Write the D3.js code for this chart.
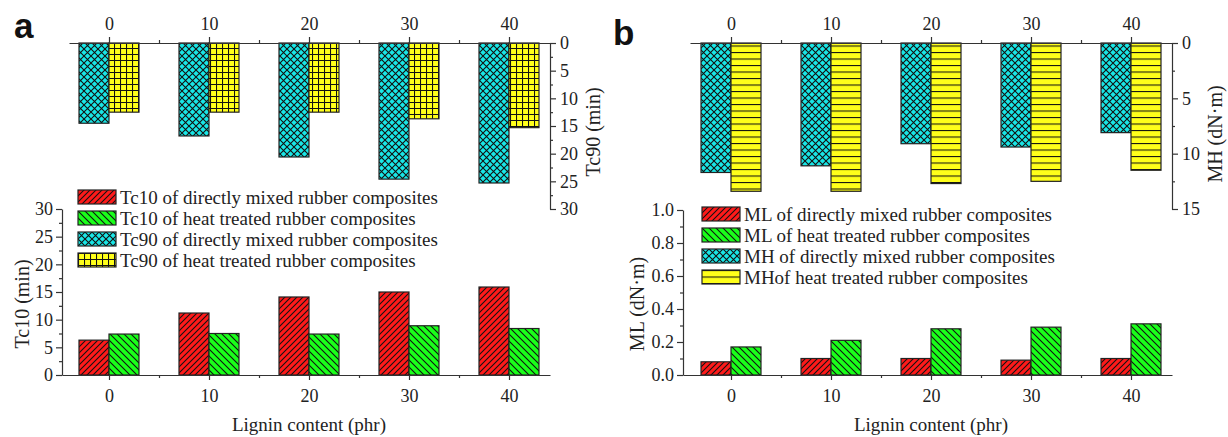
<!DOCTYPE html>
<html lang="en">
<head>
<meta charset="utf-8">
<title>Lignin content - cure characteristics</title>
<script src="https://d3js.org/d3.v7.min.js"></script>
<style>
  body { margin: 0; background: #fff; }
  .tick text { font-family: 'Liberation Serif', 'Times New Roman', serif; font-size: 18px; fill: #222; }
  .axis path, .axis line { stroke: #333; stroke-width: 1.2px; }
  .title { font-family: 'Liberation Serif', 'Times New Roman', serif; font-size: 19px; fill: #222; }
  .title.rot { font-size: 20px; }
  .legend text { font-family: 'Liberation Serif', 'Times New Roman', serif; font-size: 19px; fill: #222; }
  .panel-label { font-family: 'Liberation Sans', Arial, sans-serif; font-weight: bold; font-size: 35px; fill: #111; }
  .bar { stroke: #222; stroke-width: 1.2px; }
</style>
</head>
<body>
<svg id="chart" width="1228" height="437"></svg>

<script>
// lignin loading (phr)
var lignin = [0, 10, 20, 30, 40];
var minorX = [5, 15, 25, 35];

// panel a: scorch / cure time (min)
var tc90Direct = [14.5, 16.8, 20.6, 24.6, 25.3];
var tc90Heat   = [12.5, 12.5, 12.5, 13.7, 15.3];
var tc10Direct = [6.3, 11.2, 14.1, 15.0, 15.9];
var tc10Heat   = [7.4, 7.5, 7.4, 8.9, 8.4];

// panel b: torque (dN.m)
var mhDirect = [11.7, 11.1, 9.1, 9.4, 8.1];
var mhHeat   = [13.4, 13.4, 12.7, 12.5, 11.5];
var mlDirect = [0.08, 0.10, 0.10, 0.09, 0.10];
var mlHeat   = [0.17, 0.21, 0.28, 0.29, 0.31];

var legendA = ["Tc10 of directly mixed rubber composites",
               "Tc10 of heat treated rubber composites",
               "Tc90 of directly mixed rubber composites",
               "Tc90 of heat treated rubber composites"];
var legendB = ["ML of directly mixed rubber composites",
               "ML of heat treated rubber composites",
               "MH of directly mixed rubber composites",
               "MHof heat treated rubber composites"];

var tc90Ticks = [0, 5, 10, 15, 20, 25, 30];
var tc10Ticks = [0, 5, 10, 15, 20, 25, 30];
var mhTicks = [0, 5, 10, 15];
var mlTicks = [0.0, 0.2, 0.4, 0.6, 0.8, 1.0];

var svg = d3.select("#chart");
var defs = svg.append("defs");

// hatch patterns
function hatch(id, fill, w, h, path) {
  var p = defs.append("pattern")
      .attr("id", id)
      .attr("patternUnits", "userSpaceOnUse")
      .attr("width", w).attr("height", h);
  p.append("rect").attr("width", w).attr("height", h).attr("fill", fill);
  p.append("path").attr("d", path).attr("stroke", "#111").attr("stroke-width", 1.1).attr("fill", "none");
}
hatch("redHatch", "#ff1a1a", 6, 6, "M-1,1 L1,-1 M0,6 L6,0 M5,7 L7,5");
hatch("greenHatch", "#1aff1a", 7, 7, "M-1,6 L1,8 M0,0 L7,7 M6,-1 L8,1");
hatch("cyanHatch", "#19e6e6", 7, 7, "M0,0 L7,7 M7,0 L0,7");
hatch("yellowGrid", "#ffff1a", 6, 6, "M0,0.5 H6 M0.5,0 V6");
hatch("yellowStripe", "#ffff1a", 6, 6.5, "M0,0.5 H6");

var fills = ["url(#redHatch)", "url(#greenHatch)", "url(#cyanHatch)"];

function drawPanel(o) {
  var g = svg.append("g");

  // x scales: top axis and bottom axis have the same slope, different start
  var xTop = d3.scaleLinear().domain(o.topDomain).range([o.topX0, o.x1]);
  var xBot = d3.scaleLinear().domain(o.botDomain).range([o.botX0, o.x1]);
  var yTop = d3.scaleLinear().domain(o.topY).range([43, 209]);
  var yBot = d3.scaleLinear().domain(o.botY).range([375, o.botYTop]);

  // upper hanging bars
  [[o.topDirect, -3, fills[2]], [o.topHeat, 0, o.topHeatFill]].forEach(function(s) {
    g.selectAll(null).data(s[0]).enter().append("rect")
      .attr("class", "bar")
      .attr("x", function(d, i) { return xTop(lignin[i] + s[1]); })
      .attr("y", yTop(0))
      .attr("width", function(d, i) { return xTop(lignin[i] + s[1] + 3) - xTop(lignin[i] + s[1]); })
      .attr("height", function(d) { return yTop(d) - yTop(0); })
      .attr("fill", s[2]);
  });

  // lower bars
  [[o.botDirect, -3, fills[0]], [o.botHeat, 0, fills[1]]].forEach(function(s) {
    g.selectAll(null).data(s[0]).enter().append("rect")
      .attr("class", "bar")
      .attr("x", function(d, i) { return xBot(lignin[i] + s[1]); })
      .attr("y", function(d) { return yBot(d); })
      .attr("width", function(d, i) { return xBot(lignin[i] + s[1] + 3) - xBot(lignin[i] + s[1]); })
      .attr("height", function(d) { return yBot(0) - yBot(d); })
      .attr("fill", s[2]);
  });

  // top x axis
  g.append("g").attr("class", "axis").attr("transform", "translate(0,43)")
    .call(d3.axisTop(xTop).tickValues(lignin).tickSize(6).tickSizeOuter(0).tickPadding(7));
  g.append("g").attr("class", "axis").attr("transform", "translate(0,43)")
    .call(d3.axisTop(xTop).tickValues(minorX).tickSize(3).tickSizeOuter(0).tickFormat(""))
    .select(".domain").remove();

  // bottom x axis
  g.append("g").attr("class", "axis").attr("transform", "translate(0,375)")
    .call(d3.axisBottom(xBot).tickValues(lignin).tickSize(5).tickSizeOuter(0).tickPadding(9));
  g.append("g").attr("class", "axis").attr("transform", "translate(0,375)")
    .call(d3.axisBottom(xBot).tickValues(minorX).tickSize(3).tickSizeOuter(0).tickFormat(""))
    .select(".domain").remove();

  // right y axis (upper chart)
  g.append("g").attr("class", "axis").attr("transform", "translate(" + o.x1 + ",0)")
    .call(d3.axisRight(yTop).tickValues(o.topTicks).tickSize(6).tickSizeOuter(0).tickPadding(4));
  g.append("g").attr("class", "axis").attr("transform", "translate(" + o.x1 + ",0)")
    .call(d3.axisRight(yTop).tickValues(o.topMinor).tickSize(3).tickFormat(""))
    .select(".domain").remove();

  // left y axis (lower chart)
  g.append("g").attr("class", "axis").attr("transform", "translate(" + o.botX0 + ",0)")
    .call(d3.axisLeft(yBot).tickValues(o.botTicks).tickSize(6).tickSizeOuter(0).tickPadding(3)
      .tickFormat(o.botFormat));
  g.append("g").attr("class", "axis").attr("transform", "translate(" + o.botX0 + ",0)")
    .call(d3.axisLeft(yBot).tickValues(o.botMinor).tickSize(3).tickFormat(""))
    .select(".domain").remove();

  // titles
  g.append("text").attr("class", "title")
    .attr("x", xBot(20)).attr("y", 431).attr("text-anchor", "middle")
    .text("Lignin content (phr)");
  g.append("text").attr("class", "title rot")
    .attr("transform", "translate(" + o.botTitleX + ",304)rotate(-90)")
    .attr("text-anchor", "middle").text(o.botTitle);
  g.append("text").attr("class", "title rot")
    .attr("transform", "translate(" + o.topTitleX + "," + o.topTitleY + ")rotate(-90)")
    .attr("text-anchor", "middle").text(o.topTitle);

  g.append("text").attr("class", "panel-label")
    .attr("x", o.labelX).attr("y", o.labelY).text(o.label);

  // legend
  var lg = g.append("g").attr("class", "legend");
  var legendFills = [fills[0], fills[1], fills[2], o.topHeatFill];
  var rows = lg.selectAll("g").data(o.legend).enter().append("g")
    .attr("transform", function(d, i) { return "translate(" + o.legendX + "," + (o.legendY + i * 21) + ")"; });
  rows.append("rect").attr("class", "bar")
    .attr("width", 38).attr("height", 14)
    .attr("fill", function(d, i) { return legendFills[i]; });
  rows.append("text").attr("x", 42).attr("y", 14).text(function(d) { return d; });
}

drawPanel({
  label: "a", labelX: 14, labelY: 38,
  topDomain: [-4, 44.1], topX0: 69, botDomain: [-4.7, 44.1], botX0: 62, x1: 550,
  topY: [0, 30], topTicks: tc90Ticks, topMinor: [2.5, 7.5, 12.5, 17.5, 22.5, 27.5],
  botY: [0, 30], botYTop: 209, botTicks: tc10Ticks, botMinor: [2.5, 7.5, 12.5, 17.5, 22.5, 27.5],
  botFormat: d3.format("d"),
  topDirect: tc90Direct, topHeat: tc90Heat, topHeatFill: "url(#yellowGrid)",
  botDirect: tc10Direct, botHeat: tc10Heat,
  topTitle: "Tc90 (min)", topTitleX: 600, topTitleY: 132,
  botTitle: "Tc10 (min)", botTitleX: 29,
  legend: legendA, legendX: 78, legendY: 190
});

drawPanel({
  label: "b", labelX: 613, labelY: 45,
  topDomain: [-4.1, 44.1], topX0: 690, botDomain: [-4.8, 44.1], botX0: 683, x1: 1172,
  topY: [0, 15], topTicks: mhTicks, topMinor: [2.5, 7.5, 12.5],
  botY: [0, 1], botYTop: 210, botTicks: mlTicks, botMinor: [0.1, 0.3, 0.5, 0.7, 0.9],
  botFormat: d3.format(".1f"),
  topDirect: mhDirect, topHeat: mhHeat, topHeatFill: "url(#yellowStripe)",
  botDirect: mlDirect, botHeat: mlHeat,
  topTitle: "MH (dN·m)", topTitleX: 1222, topTitleY: 134,
  botTitle: "ML (dN·m)", botTitleX: 644,
  legend: legendB, legendX: 702, legendY: 207
});
</script>
</body>
</html>
